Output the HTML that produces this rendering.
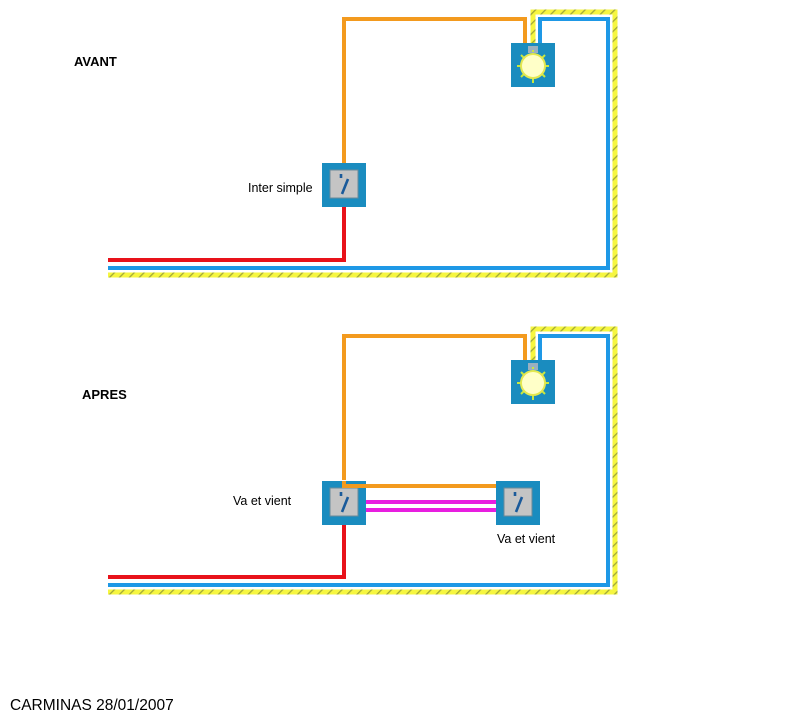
<!DOCTYPE html>
<html><head><meta charset="utf-8"><style>
html,body{margin:0;padding:0;background:#fff;}
svg{display:block}
text{font-family:"Liberation Sans",sans-serif;}
</style></head><body>
<svg width="800" height="719" viewBox="0 0 800 719" xmlns="http://www.w3.org/2000/svg">
<defs>
<pattern id="hatch" width="7" height="7" patternUnits="userSpaceOnUse" patternTransform="rotate(45)">
<rect width="7" height="7" fill="#f6f640"/>
<rect width="1.3" height="7" fill="#a0a838"/>
</pattern>
<g id="sw">
<rect x="0" y="0" width="44" height="44" fill="#1a8cbf"/>
<rect x="8" y="7" width="28" height="28" fill="#c4c4c4" stroke="#6a8a9a" stroke-width="1"/>
<path d="M19 11 v4 M26 16 L20 31" stroke="#1a5a9a" stroke-width="2.6" fill="none"/>
</g>
<g id="lamp">
<rect x="0" y="0" width="44" height="44" fill="#1a8cbf"/>
<rect x="17" y="3" width="10" height="7" fill="#9ab0c0"/>
<g stroke="#c8e840" stroke-width="2">
<path d="M22 9 v-2 M22 36 v4 M6 23 h4 M34 23 h4 M10 12 l3 3 M34 12 l-3 3 M10 34 l3 -3 M34 34 l-3 -3"/>
</g>
<circle cx="22" cy="23" r="12" fill="#ffffc8" stroke="#e4e850" stroke-width="2"/>
</g>
</defs>
<g>
<path d="M108 275 H615 V12 H533 V43" fill="none" stroke="url(#hatch)" stroke-width="5"/>
<path d="M108 268 H608 V19 H540 V43" fill="none" stroke="#1e98e6" stroke-width="4"/>
<path d="M108 260 H344 V207" fill="none" stroke="#e8121a" stroke-width="4"/>
<path d="M344 163 V19 H525 V43" fill="none" stroke="#f39a1e" stroke-width="4"/>
</g>
<use href="#lamp" x="511" y="43"/>
<use href="#sw" x="322" y="163"/>

<g transform="translate(0,317)">
<path d="M108 275 H615 V12 H533 V43" fill="none" stroke="url(#hatch)" stroke-width="5"/>
<path d="M108 268 H608 V19 H540 V43" fill="none" stroke="#1e98e6" stroke-width="4"/>
<path d="M108 260 H344 V207" fill="none" stroke="#e8121a" stroke-width="4"/>
<path d="M344 163 V19 H525 V43" fill="none" stroke="#f39a1e" stroke-width="4"/>
</g>
<use href="#lamp" x="511" y="360"/>
<use href="#sw" x="322" y="481"/>
<use href="#sw" x="496" y="481"/>
<path d="M344 481 V486 H496" fill="none" stroke="#f39a1e" stroke-width="4"/>
<path d="M366 502 H496 M366 510 H496" stroke="#e81ee0" stroke-width="4"/>

<text x="74" y="66" font-size="13" font-weight="bold">AVANT</text>
<text x="82" y="399" font-size="13" font-weight="bold">APRES</text>
<text x="248" y="192" font-size="12.5">Inter simple</text>
<text x="233" y="505" font-size="12.5">Va et vient</text>
<text x="497" y="543" font-size="12.5">Va et vient</text>
<text x="10" y="710" font-size="15.5">CARMINAS 28/01/2007</text>
</svg>
</body></html>
